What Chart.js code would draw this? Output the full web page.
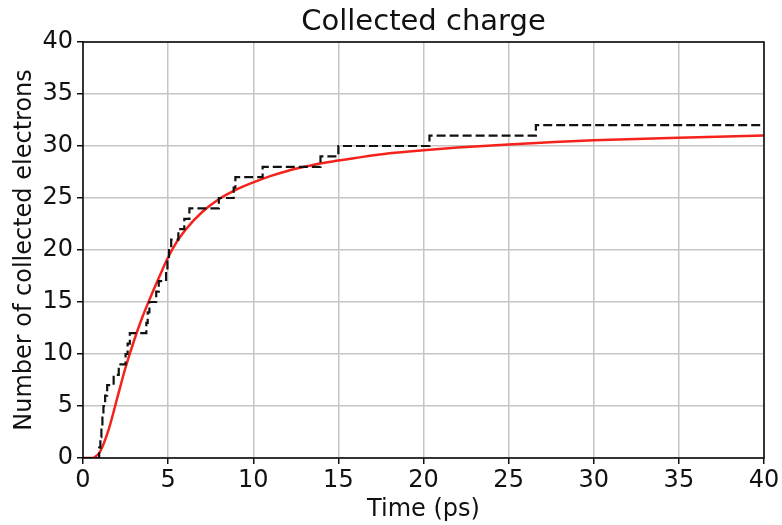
<!DOCTYPE html>
<html>
<head>
<meta charset="utf-8">
<script src="https://cdn.jsdelivr.net/npm/chart.js@4.4.0/dist/chart.umd.min.js"></script>
<style>
  html, body { margin: 0; padding: 0; background: #fff; }
  #wrap { width: 782px; height: 525px; }
</style>
</head>
<body>
<div id="wrap"><canvas id="myChart" width="782" height="525"></canvas></div>
<script>
// step curve: time (ps) where the count jumps, and the new count
const stepTimes = [0, 0.95, 1.02, 1.08, 1.14, 1.2, 1.3, 1.42, 1.8, 2.1, 2.5, 2.62, 2.75,
  3.72, 3.8, 3.9, 4.3, 4.45, 4.88, 4.96, 5.05, 5.18, 5.6, 5.95, 6.25,
  7.98, 8.85, 8.95, 10.55, 13.95, 15.0, 20.35, 26.6, 40];
const stepCounts = [0, 1, 2, 3, 4, 5, 6, 7, 8, 9, 10, 11, 12,
  13, 14, 15, 16, 17, 18, 19, 20, 21, 22, 23, 24,
  25, 26, 27, 28, 29, 30, 31, 32, 32];

// smooth fit (red)
const fitTimes = [0, 0.5, 0.7, 1.0, 1.5, 2.0, 2.5, 3.0, 3.5, 4.0, 4.5, 5.0, 5.5, 6.0, 7.0, 8.0,
  9.0, 10, 11, 12, 13, 14, 15, 16, 18, 20, 22, 25, 28, 30, 35, 40];
const fitCounts = [0, 0, 0.1, 0.6, 2.7, 5.7, 8.7, 11.3, 13.6, 15.6, 17.5, 19.3, 20.75, 21.9, 23.65, 24.9,
  25.8, 26.5, 27.1, 27.6, 28.0, 28.35, 28.6, 28.85, 29.3, 29.6, 29.85, 30.15, 30.4, 30.55, 30.8, 31.0];

const xTicks = [0, 5, 10, 15, 20, 25, 30, 35, 40];
const yTicks = [0, 5, 10, 15, 20, 25, 30, 35, 40];

const FONT = "'DejaVu Sans', 'Liberation Sans', sans-serif";

const frameAndTitle = {
  id: "frameAndTitle",
  afterDatasetsDraw(chart) {
    const { ctx, chartArea: a } = chart;
    ctx.save();
    ctx.strokeStyle = "#000";
    ctx.lineWidth = 1.5;
    ctx.strokeRect(a.left, a.top, a.right - a.left, a.bottom - a.top);
    ctx.fillStyle = "#111";
    ctx.font = "29px " + FONT;
    ctx.textAlign = "center";
    ctx.textBaseline = "middle";
    ctx.fillText("Collected charge", (a.left + a.right) / 2, 22);
    ctx.restore();
  },
};

const ctx = document.getElementById("myChart");
new Chart(ctx, {
  type: "line",
  data: {
    datasets: [
      {
        label: "Collected electrons",
        data: stepTimes.map((t, i) => ({ x: t, y: stepCounts[i] })),
        borderColor: "#111",
        borderWidth: 2.2,
        borderDash: [9, 4],
        stepped: "before",
        pointRadius: 0,
        fill: false,
      },
      {
        label: "Fit",
        data: fitTimes.map((t, i) => ({ x: t, y: fitCounts[i] })),
        borderColor: "#f5221b",
        borderWidth: 2.5,
        cubicInterpolationMode: "monotone",
        pointRadius: 0,
        fill: false,
      },
    ],
  },
  options: {
    responsive: false,
    animation: false,
    layout: { padding: { top: 42, right: 18, left: 0, bottom: 0 } },
    plugins: {
      legend: { display: false },
      tooltip: { enabled: false },
    },
    scales: {
      x: {
        type: "linear",
        min: 0,
        max: 40,
        afterBuildTicks: (s) => { s.ticks = xTicks.map((v) => ({ value: v })); },
        afterFit: (s) => { s.height = 67; },
        ticks: { color: "#111", font: { family: FONT, size: 24 }, padding: 2, maxRotation: 0 },
        grid: { color: "#c8c4c4", lineWidth: 1.5, tickColor: "#111", tickLength: 6, tickWidth: 1.5 },
        border: { display: false },
        title: { display: true, text: "Time (ps)", color: "#111", font: { family: FONT, size: 24 }, padding: { top: 0, bottom: 1 } },
      },
      y: {
        min: 0,
        max: 40,
        afterBuildTicks: (s) => { s.ticks = yTicks.map((v) => ({ value: v })); },
        afterFit: (s) => { s.width = 83; },
        ticks: { color: "#111", font: { family: FONT, size: 24 }, padding: 4 },
        grid: { color: "#c8c4c4", lineWidth: 1.5, tickColor: "#111", tickLength: 6, tickWidth: 1.5 },
        border: { display: false },
        title: { display: true, text: "Number of collected electrons", color: "#111", font: { family: FONT, size: 24 }, padding: { top: 10, bottom: 0 } },
      },
    },
  },
  plugins: [frameAndTitle],
});
</script>
</body>
</html>
